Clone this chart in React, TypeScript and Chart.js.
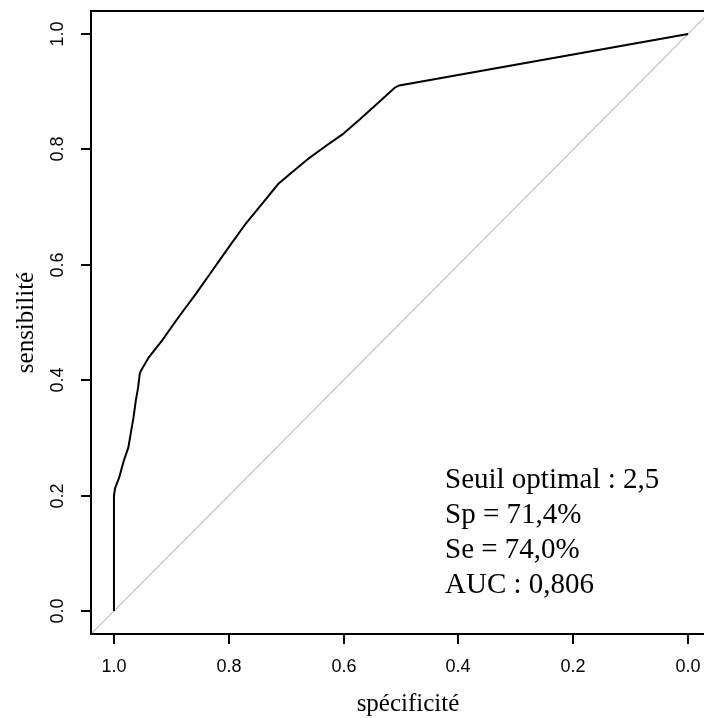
import { useEffect, useRef } from "react";
import { Chart, registerables } from "chart.js";

Chart.register(...registerables);

// ROC curve points (specificity on x, reversed; sensitivity on y)
const specificity = [1.0, 1.0, 0.998, 0.991, 0.983, 0.975, 0.97, 0.966, 0.962, 0.958, 0.955, 0.951, 0.939, 0.916, 0.887, 0.857, 0.828, 0.799, 0.77, 0.741, 0.714, 0.695, 0.66, 0.631, 0.602, 0.572, 0.543, 0.511, 0.503, 0.0];
const sensitivity = [0.0, 0.2, 0.213, 0.231, 0.26, 0.283, 0.312, 0.335, 0.364, 0.387, 0.412, 0.42, 0.44, 0.469, 0.51, 0.55, 0.591, 0.632, 0.672, 0.707, 0.74, 0.756, 0.785, 0.806, 0.826, 0.852, 0.878, 0.907, 0.911, 1.0];

// chance diagonal (sens = 1 - spec) spanning the plot region
const diagonalSpec = [1.04, -0.04];
const diagonalSens = [-0.04, 1.04];

const xTicks = [1.0, 0.8, 0.6, 0.4, 0.2, 0.0];
const yTicks = [0.0, 0.2, 0.4, 0.6, 0.8, 1.0];
const axisMin = -0.04;
const axisMax = 1.04;

const xTitle = "spécificité";
const yTitle = "sensibilité";
const annotationLines = ["Seuil optimal : 2,5", "Sp = 71,4%", "Se = 74,0%", "AUC : 0,806"];

const SERIF = '"Liberation Serif", "Times New Roman", serif';
const SANS = '"Liberation Sans", Arial, sans-serif';

const axesPlugin = {
  id: "rAxes",
  afterDraw(chart: any) {
    const { ctx, chartArea: a, scales } = chart;
    const xs = scales.x;
    const ys = scales.y;
    ctx.save();
    ctx.strokeStyle = "#000";
    ctx.fillStyle = "#000";
    // frame
    ctx.lineWidth = 2;
    ctx.strokeRect(a.left, a.top, a.right - a.left, a.bottom - a.top);

    // x ticks
    ctx.lineWidth = 2;
    ctx.font = `18px ${SANS}`;
    ctx.textAlign = "center";
    ctx.textBaseline = "middle";
    xTicks.forEach((v) => {
      const px = Math.round(xs.getPixelForValue(v));
      ctx.beginPath();
      ctx.moveTo(px, a.bottom);
      ctx.lineTo(px, a.bottom + 10);
      ctx.stroke();
      ctx.fillText(v.toFixed(1), px, a.bottom + 33);
    });

    // y ticks
    yTicks.forEach((v) => {
      const py = Math.round(ys.getPixelForValue(v));
      ctx.beginPath();
      ctx.moveTo(a.left - 10, py);
      ctx.lineTo(a.left, py);
      ctx.stroke();
      ctx.save();
      ctx.translate(a.left - 33, py);
      ctx.rotate(-Math.PI / 2);
      ctx.fillText(v.toFixed(1), 0, 0);
      ctx.restore();
    });

    // axis titles
    ctx.font = `25px ${SERIF}`;
    ctx.textBaseline = "alphabetic";
    ctx.textAlign = "center";
    ctx.fillText(xTitle, 408, 711);
    ctx.save();
    ctx.translate(33, (a.top + a.bottom) / 2);
    ctx.rotate(-Math.PI / 2);
    ctx.fillText(yTitle, 0, 0);
    ctx.restore();

    // annotation
    ctx.font = `29px ${SERIF}`;
    ctx.textAlign = "left";
    annotationLines.forEach((t, i) => {
      ctx.fillText(t, 445, 488 + i * 35);
    });
    ctx.restore();
  },
};

export default function App() {
  const ref = useRef<HTMLCanvasElement>(null);
  useEffect(() => {
    if (!ref.current) return;
    const chart = new Chart(ref.current, {
      type: "line",
      data: {
        datasets: [
          {
            data: specificity.map((s, i) => ({ x: s, y: sensitivity[i] })),
            borderColor: "#000",
            borderWidth: 2,
            pointRadius: 0,
            tension: 0,
            fill: false,
          },
          {
            data: diagonalSpec.map((s, i) => ({ x: s, y: diagonalSens[i] })),
            borderColor: "#bebebe",
            borderWidth: 1.2,
            pointRadius: 0,
            tension: 0,
            fill: false,
          },
        ],
      },
      options: {
        responsive: false,
        animation: false,
        devicePixelRatio: 1,
        layout: { padding: { left: 91, top: 11, right: 9, bottom: 84 } },
        plugins: { legend: { display: false }, tooltip: { enabled: false } },
        scales: {
          x: { type: "linear", min: axisMin, max: axisMax, reverse: true, display: false },
          y: { type: "linear", min: axisMin, max: axisMax, display: false },
        },
      },
      plugins: [axesPlugin],
    });
    return () => chart.destroy();
  }, []);
  return (
    <div
      style={{
        position: "fixed",
        left: 0,
        top: 0,
        width: 704,
        height: 718,
        overflow: "hidden",
        background: "#fff",
      }}
    >
      <canvas ref={ref} width={720} height={718} style={{ display: "block" }} />
    </div>
  );
}
